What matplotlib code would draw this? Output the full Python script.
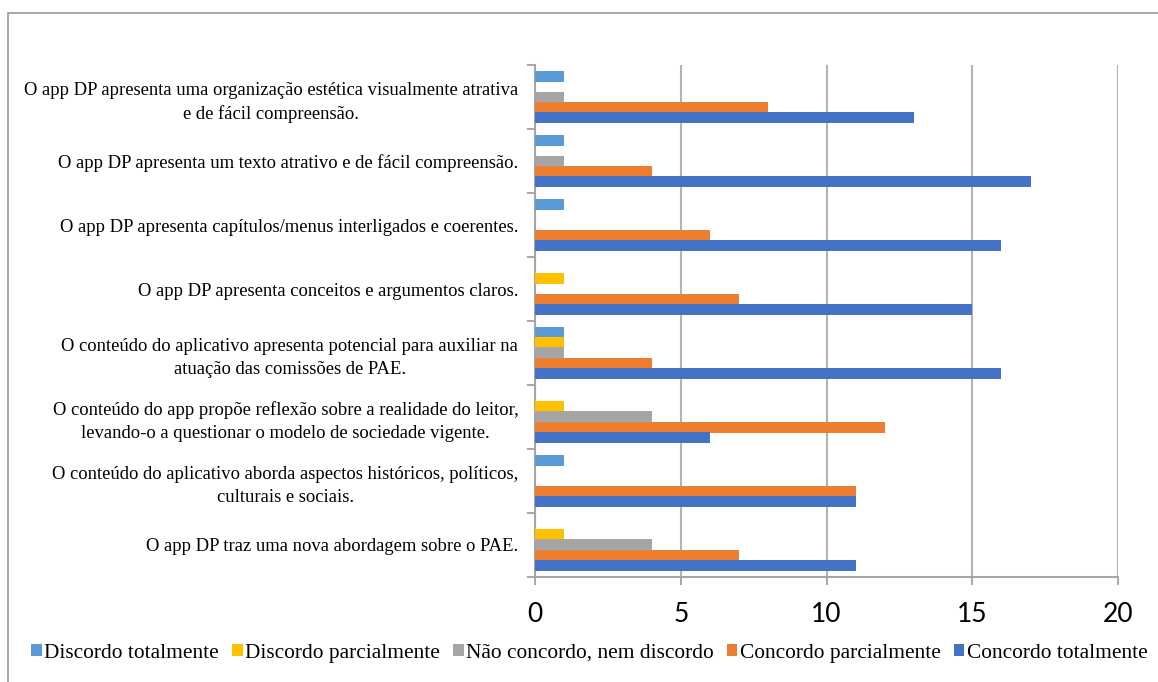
import matplotlib
matplotlib.use("Agg")
import matplotlib.pyplot as plt
from matplotlib.patches import Rectangle
import numpy as np

categories = [
    "O app DP traz uma nova abordagem sobre o PAE.",
    "O conteúdo do aplicativo aborda aspectos históricos, políticos,\nculturais e sociais.",
    "O conteúdo do app propõe reflexão sobre a realidade do leitor,\nlevando-o a questionar o modelo de sociedade vigente.",
    "O conteúdo do aplicativo apresenta potencial para auxiliar na\natuação das comissões de PAE.",
    "O app DP apresenta conceitos e argumentos claros.",
    "O app DP apresenta capítulos/menus interligados e coerentes.",
    "O app DP apresenta um texto atrativo e de fácil compreensão.",
    "O app DP apresenta uma organização estética visualmente atrativa\ne de fácil compreensão.",
]
discordo_totalmente = [0, 1, 0, 1, 0, 1, 1, 1]
discordo_parcialmente = [1, 0, 1, 1, 1, 0, 0, 0]
nao_concordo = [4, 0, 4, 1, 0, 0, 1, 1]
concordo_parcialmente = [7, 11, 12, 4, 7, 6, 4, 8]
concordo_totalmente = [11, 11, 6, 16, 15, 16, 17, 13]

series_names = ["Discordo totalmente", "Discordo parcialmente",
                "Não concordo, nem discordo", "Concordo parcialmente",
                "Concordo totalmente"]
colors = ["#5B9BD5", "#FFC000", "#A5A5A5", "#ED7D31", "#4472C4"]
series = [discordo_totalmente, discordo_parcialmente, nao_concordo,
          concordo_parcialmente, concordo_totalmente]
offsets = [0.32, 0.16, 0.0, -0.16, -0.32]
x_ticks = [0, 5, 10, 15, 20]

fig = plt.figure(figsize=(11.58, 6.82), dpi=100)
ax = fig.add_axes([0.462, 0.154, 0.5035, 0.7505])

y = np.arange(len(categories))
for vals, col, off, name in zip(series, colors, offsets, series_names):
    ax.barh(y + off, vals, height=0.175, color=col, label=name, zorder=3)

ax.set_xlim(0, 20)
ax.set_ylim(-0.5, len(categories) - 0.5)
ax.set_xticks(x_ticks)
ax.set_xticklabels([str(t) for t in x_ticks], fontfamily="Lato", fontsize=19)
ax.grid(axis="x", color="#B3B3B3", linewidth=1.5, zorder=0)
ax.set_axisbelow(True)

ax.set_yticks(np.arange(-0.5, len(categories), 1.0))
ax.set_yticklabels([])
ax.set_yticks(y, minor=True)
ax.set_yticklabels(categories, minor=True, fontfamily="Liberation Serif",
                   fontsize=13.4, multialignment="center", linespacing=1.45)
ax.tick_params(axis="y", which="minor", length=0, pad=12)
ax.tick_params(axis="y", which="major", length=6, width=1.2, color="#999999")
ax.tick_params(axis="x", length=6, width=1.2, color="#999999", pad=12)

for s in ["top", "right"]:
    ax.spines[s].set_visible(False)
for s in ["left", "bottom"]:
    ax.spines[s].set_color("#A6A6A6")
    ax.spines[s].set_linewidth(1.5)

handles, labels = ax.get_legend_handles_labels()
leg = fig.legend(handles, labels, loc="center", bbox_to_anchor=(0.509, 0.042),
                 ncol=5, frameon=False,
                 prop={"family": "Liberation Serif", "size": 15.4},
                 handlelength=0.5, handleheight=0.5, handletextpad=0.12,
                 columnspacing=0.6)

fig.patches.append(Rectangle((8 / 1158, -0.1), 1.2, 1 - 13 / 682 + 0.1,
                             transform=fig.transFigure, fill=False,
                             edgecolor="#999999", linewidth=1.2))

fig.savefig("out.png", dpi=100)
